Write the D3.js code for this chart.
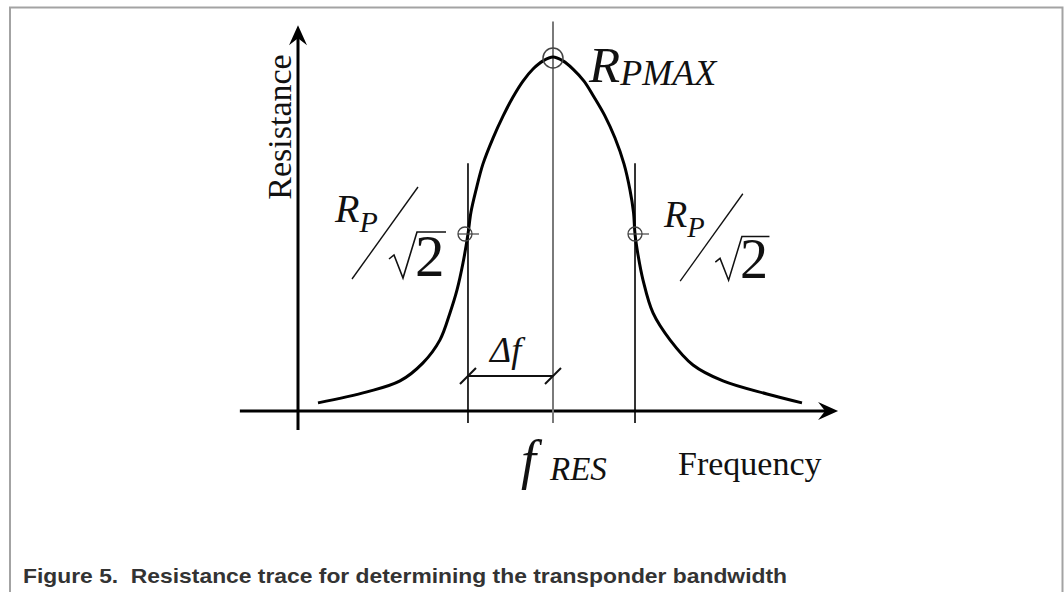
<!DOCTYPE html>
<html>
<head>
<meta charset="utf-8">
<script src="https://cdn.jsdelivr.net/npm/d3@7"></script>
<style>
  body { margin: 0; background: #fff; }
  .serif { font-family: "Liberation Serif", "Times New Roman", serif; fill: #111; }
  .ital { font-style: italic; }
</style>
</head>
<body>
<div id="chart"></div>
<script>
// Resistance trace (frequency in arbitrary units, resistance relative to R_Pmax)
var freq = [3.92, 13.53, 20.0, 24.51, 27.84, 29.80, 31.18, 32.35, 33.33, 33.92, 34.90, 36.27, 38.24, 40.20,
            42.16, 44.12, 46.08, 48.04, 50.0,
            51.96, 53.92, 56.08, 58.04, 60.20, 62.16, 63.92, 65.10, 65.78, 66.08, 66.67, 67.65, 69.61,
            72.94, 77.45, 83.33, 91.96, 98.82];
var resistance = [0.023, 0.054, 0.085, 0.136, 0.201, 0.277, 0.342, 0.418, 0.500, 0.562, 0.624, 0.698, 0.771, 0.833,
                  0.887, 0.932, 0.966, 0.989, 1.000,
                  0.989, 0.966, 0.932, 0.887, 0.833, 0.771, 0.698, 0.624, 0.562, 0.500, 0.441, 0.370, 0.277,
                  0.201, 0.130, 0.085, 0.048, 0.023];

// marker frequencies: lower band edge, resonance, upper band edge
var markFreq = [33.33, 50, 66.08];
var halfLevel = 0.5;
var peakLevel = 1.0;

var svgWidth = 1064;
var svgHeight = 592;

var svg = d3.select("#chart")
  .append("svg")
  .attr("width", svgWidth)
  .attr("height", svgHeight);

// frame round the figure
svg.append("path")
  .attr("d", "M10,592 L10,7.5 L1062.5,7.5 L1062.5,592")
  .attr("fill", "none")
  .attr("stroke", "#a3a3a3")
  .attr("stroke-width", 2);

// scales
var xScale = d3.scaleLinear()
  .domain([0, 100])
  .range([298, 808]);

var yScale = d3.scaleLinear()
  .domain([0, 1])
  .range([411, 57]);

var x0 = xScale(0), y0 = yScale(0);
var xEnd = xScale(105.9), yEnd = yScale(1.09);

// x axis with arrow
svg.append("line")
  .attr("x1", xScale(-11.4)).attr("x2", xEnd - 8)
  .attr("y1", y0).attr("y2", y0)
  .attr("stroke", "#000").attr("stroke-width", 3);
svg.append("path")
  .attr("d", `M${xEnd},${y0} L${xEnd - 20},${y0 - 9} L${xEnd - 13},${y0} L${xEnd - 20},${y0 + 9} Z`)
  .attr("fill", "#000");

// y axis with arrow
svg.append("line")
  .attr("x1", x0).attr("x2", x0)
  .attr("y1", yScale(-0.054)).attr("y2", yEnd + 8)
  .attr("stroke", "#000").attr("stroke-width", 3);
svg.append("path")
  .attr("d", `M${x0},${yEnd} L${x0 - 9},${yEnd + 20} L${x0},${yEnd + 13} L${x0 + 9},${yEnd + 20} Z`)
  .attr("fill", "#000");

// vertical marker lines
svg.append("line")
  .attr("x1", xScale(markFreq[1])).attr("x2", xScale(markFreq[1]))
  .attr("y1", yScale(1.1)).attr("y2", yScale(-0.034))
  .attr("stroke", "#7a7a7a").attr("stroke-width", 2);

[markFreq[0], markFreq[2]].forEach(function(f) {
  svg.append("line")
    .attr("x1", xScale(f)).attr("x2", xScale(f))
    .attr("y1", yScale(0.70)).attr("y2", yScale(-0.034))
    .attr("stroke", "#000").attr("stroke-width", 1.6);
});

// resistance curve
var curveData = freq.map(function(f, i) { return [f, resistance[i]]; });
var line = d3.line()
  .x(d => xScale(d[0]))
  .y(d => yScale(d[1]))
  .curve(d3.curveCatmullRom.alpha(0.5));

svg.append("path")
  .datum(curveData)
  .attr("d", line)
  .attr("fill", "none")
  .attr("stroke", "#000")
  .attr("stroke-width", 3);

// peak marker
svg.append("circle")
  .attr("cx", xScale(markFreq[1]))
  .attr("cy", yScale(peakLevel) + 1)
  .attr("r", 10)
  .attr("fill", "none")
  .attr("stroke", "#444")
  .attr("stroke-width", 1.5);

// half level markers
[markFreq[0], markFreq[2]].forEach(function(f, i) {
  var cx = xScale(f) - (i == 0 ? 3 : 0);
  var cy = yScale(halfLevel);
  svg.append("circle")
    .attr("cx", cx).attr("cy", cy).attr("r", 7)
    .attr("fill", "none").attr("stroke", "#444").attr("stroke-width", 1.3);
  svg.append("line")
    .attr("x1", cx - 7).attr("x2", cx + 14)
    .attr("y1", cy).attr("y2", cy)
    .attr("stroke", "#444").attr("stroke-width", 1.2);
});

// bandwidth dimension line
var dimY = 376;
svg.append("line")
  .attr("x1", xScale(markFreq[0])).attr("x2", xScale(markFreq[1]))
  .attr("y1", dimY).attr("y2", dimY)
  .attr("stroke", "#111").attr("stroke-width", 2);
[markFreq[0], markFreq[1]].forEach(function(f) {
  var cx = xScale(f);
  svg.append("line")
    .attr("x1", cx - 8).attr("x2", cx + 8)
    .attr("y1", dimY + 8).attr("y2", dimY - 8)
    .attr("stroke", "#111").attr("stroke-width", 2);
});

// labels
svg.append("text")
  .attr("class", "serif")
  .attr("transform", "translate(291,127) rotate(-90)")
  .attr("text-anchor", "middle")
  .attr("font-size", "34px")
  .text("Resistance");

svg.append("text")
  .attr("class", "serif")
  .attr("x", 678).attr("y", 475)
  .attr("font-size", "34px")
  .text("Frequency");

// R_PMAX
var rmax = svg.append("text").attr("class", "serif ital").attr("x", 589).attr("y", 82);
rmax.append("tspan").attr("font-size", "51px").text("R");
rmax.append("tspan").attr("font-size", "36px").attr("dy", 3).text("PMAX");

// f_RES
var fres = svg.append("text").attr("class", "serif ital").attr("x", 521).attr("y", 478);
fres.append("tspan").attr("font-size", "54px").text("f");
fres.append("tspan").attr("font-size", "33px").attr("x", 550).attr("dy", 2).text("RES");

// delta f
svg.append("text")
  .attr("class", "serif ital")
  .attr("x", 490).attr("y", 362)
  .attr("font-size", "36px")
  .text("\u0394f");

// R_P / sqrt(2) labels
function rpLabel(x, y, s) {
  var g = svg.append("g").attr("transform", `translate(${x},${y}) scale(${s})`);
  var t = g.append("text").attr("class", "serif ital").attr("x", 0).attr("y", 0);
  t.append("tspan").attr("font-size", "40px").text("R");
  t.append("tspan").attr("font-size", "30px").attr("dy", 10).text("P");
  g.append("line")
    .attr("x1", 83).attr("y1", -35).attr("x2", 17).attr("y2", 57)
    .attr("stroke", "#111").attr("stroke-width", 1.4);
  g.append("path")
    .attr("d", "M54,37 L59,33 L68,56 L82,10 L111,10")
    .attr("fill", "none").attr("stroke", "#111").attr("stroke-width", 1.6);
  g.append("text")
    .attr("class", "serif")
    .attr("x", 80).attr("y", 54)
    .attr("font-size", "59px")
    .text("2");
}
rpLabel(335, 222, 1);
rpLabel(664, 227, 0.95);

// caption
svg.append("text")
  .attr("x", 23).attr("y", 583)
  .attr("font-family", "'Liberation Sans', Arial, sans-serif")
  .attr("font-weight", "bold")
  .attr("font-size", "21px")
  .attr("fill", "#333")
  .attr("textLength", 764)
  .attr("lengthAdjust", "spacingAndGlyphs")
  .style("white-space", "pre")
  .text("Figure 5.  Resistance trace for determining the transponder bandwidth");
</script>
</body>
</html>
